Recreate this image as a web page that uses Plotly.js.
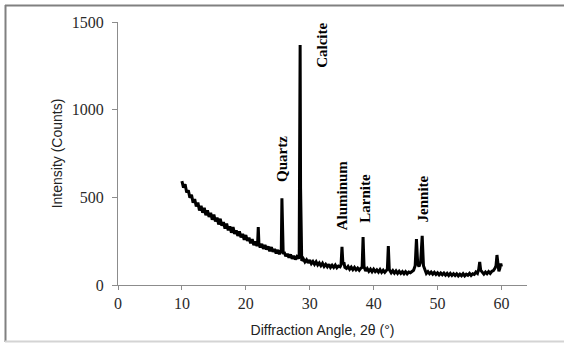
<!DOCTYPE html>
<html>
<head>
<meta charset="utf-8">
<script src="https://cdn.plot.ly/plotly-3.0.1.min.js"></script>
<style>
html,body{margin:0;padding:0;background:#fff;}
#chart{width:564px;height:343px;}
</style>
</head>
<body>
<div id="chart"></div>
<script>
// Diffraction angle 2θ (degrees)
const angle = [
10.00,10.25,10.50,10.75, 11.00,11.25,11.50,11.75, 12.00,12.25,12.50,12.75,
13.00,13.25,13.50,13.75, 14.00,14.25,14.50,14.75, 15.00,15.25,15.50,15.75,
16.00,16.25,16.50,16.75, 17.00,17.25,17.50,17.75, 18.00,18.25,18.50,18.75,
19.00,19.25,19.50,19.75, 20.00,20.25,20.50,20.75, 21.00,21.25,21.50,21.75,
21.85,21.95,22.05,22.25,22.50,22.75, 23.00,23.25,23.50,23.75, 24.00,24.25,24.50,24.75,
25.00,25.25,25.45,25.55,25.65,25.75,25.85, 26.00,26.25,26.50,26.75, 27.00,27.25,27.50,27.75,
28.00,28.25,28.35,28.43,28.50,28.57,28.65,28.75, 29.00,29.25,29.50,29.75,
30.00,30.25,30.50,30.75, 31.00,31.25,31.50,31.75, 32.00,32.25,32.50,32.75,
33.00,33.25,33.50,33.75, 34.00,34.25,34.50,34.75, 34.90,35.05,35.20,35.35,35.50,35.75,
36.00,36.25,36.50,36.75, 37.00,37.25,37.50,37.75, 38.00,38.20,38.35,38.50,38.75,
39.00,39.25,39.50,39.75, 40.00,40.25,40.50,40.75, 41.00,41.25,41.50,41.75,
42.00,42.15,42.30,42.45,42.75, 43.00,43.25,43.50,43.75, 44.00,44.25,44.50,44.75,
45.00,45.25,45.50,45.75, 46.00,46.25,46.50,46.70,46.90,47.10,47.35,47.60,47.80,
48.00,48.25,48.50,48.75, 49.00,49.25,49.50,49.75, 50.00,50.25,50.50,50.75,
51.00,51.25,51.50,51.75, 52.00,52.25,52.50,52.75, 53.00,53.25,53.50,53.75,
54.00,54.25,54.50,54.75, 55.00,55.25,55.50,55.75, 56.00,56.25,56.45,56.60,56.75,
57.00,57.25,57.50,57.75, 58.00,58.25,58.50,58.75, 59.00,59.15,59.30,59.45,59.60,59.75,
59.90,60.00
];
// Intensity (counts)
const counts = [
592,555,575,528, 540,498,515,470, 490,448,470,425,
452,412,440,398, 425,388,412,372, 402,362,385,345,
378,338,358,322, 350,312,334,298, 330,292,312,280,
305,272,292,258, 285,252,270,238, 262,228,248,222,
240,330,236,214,234,206, 228,202,220,192, 216,190,206,180,
200,176,192,200,495,205,176, 188,164,178,156, 174,150,166,146,
162,150,165,600,1369,550,160,138, 150,132,144,126,
142,122,134,118, 132,114,126,110, 124,106,118,104,
118,100,112,100, 114,98,108,104, 115,217,118,130,100,94,
106,90,102,88, 100,86,96,84, 96,100,274,105,80,
94,78,90,76, 90,76,86,74, 88,72,84,72,
86,90,222,88,70, 82,68,80,66, 78,66,76,64,
76,64,74,70, 78,84,110,262,120,105,130,280,110,
84,66,76,64, 74,62,72,60, 70,58,68,58,
68,56,66,54, 66,54,64,54, 64,52,62,53,
64,52,62,56, 66,54,64,60, 74,66,90,131,85,
72,62,74,64, 76,66,78,82, 96,110,171,100,78,95,
122,105
];
// Phase labels
const phaseNames = ["Calcite","Quartz","Aluminum","Larnite","Jennite"];
const phaseX = [31.9, 25.7, 35.1, 38.6, 47.7];
const phaseY = [1369, 720, 513, 496, 493];

const xTicks = [0,10,20,30,40,50,60];
const yTicks = [0,500,1000,1500];

const trace = {
  x: angle, y: counts, type: "scatter", mode: "lines",
  line: {color: "#000", width: 3},
  hoverinfo: "x+y"
};

const annotations = phaseNames.map((n,i)=>({
  x: phaseX[i], y: phaseY[i], xref: "x", yref: "y",
  text: "<b>"+n+"</b>", showarrow: false, textangle: -90,
  xanchor: "center", yanchor: "middle",
  font: {family: "Liberation Serif, Times New Roman, serif", size: 15, color: "#000"}
}));

// figure border (paper coords; plot area spans x 118..527 px, y 22..285 px)
const pxX = p => (p-118)/409;
const pxY = p => (285-p)/263;
const shapes = [
  {type:"line", xref:"paper", yref:"paper", x0:pxX(5), x1:pxX(564), y0:pxY(5.5), y1:pxY(5.5), line:{color:"#808080", width:2}},
  {type:"line", xref:"paper", yref:"paper", x0:pxX(5.5), x1:pxX(5.5), y0:pxY(5), y1:pxY(342), line:{color:"#808080", width:2}},
  {type:"line", xref:"paper", yref:"paper", x0:pxX(5), x1:pxX(564), y0:pxY(341.5), y1:pxY(341.5), line:{color:"#d4d4d4", width:2}}
];

const tickFont = {family: "Liberation Serif, Times New Roman, serif", size: 16, color: "#2a2a2a"};
const layout = {
  width: 564, height: 343,
  margin: {l: 118, r: 37, t: 22, b: 58, pad: 0},
  paper_bgcolor: "#fff", plot_bgcolor: "#fff",
  showlegend: false,
  xaxis: {
    range: [0, 64], tickvals: xTicks, ticktext: xTicks.map(String),
    showgrid: false, zeroline: false, showline: true, linecolor: "#8c8c8c", linewidth: 1,
    ticks: "outside", ticklen: 4, tickcolor: "#8c8c8c", tickfont: tickFont,
    title: {text: "Diffraction Angle, 2θ (°)", font: {family: "Liberation Sans, Arial, sans-serif", size: 14, color: "#222"}, standoff: 13}
  },
  yaxis: {
    range: [0, 1500], tickvals: yTicks, ticktext: yTicks.map(String),
    showgrid: false, zeroline: false, showline: true, linecolor: "#8c8c8c", linewidth: 1,
    ticks: "outside", ticklen: 5, tickcolor: "#8c8c8c", tickfont: tickFont, ticklabelstandoff: 5,
    title: {text: "Intensity (Counts)", font: {family: "Liberation Sans, Arial, sans-serif", size: 14, color: "#222"}, standoff: 5}
  },
  annotations: annotations,
  shapes: shapes
};

Plotly.newPlot("chart", [trace], layout, {displayModeBar: false, staticPlot: true});
</script>
</body>
</html>
